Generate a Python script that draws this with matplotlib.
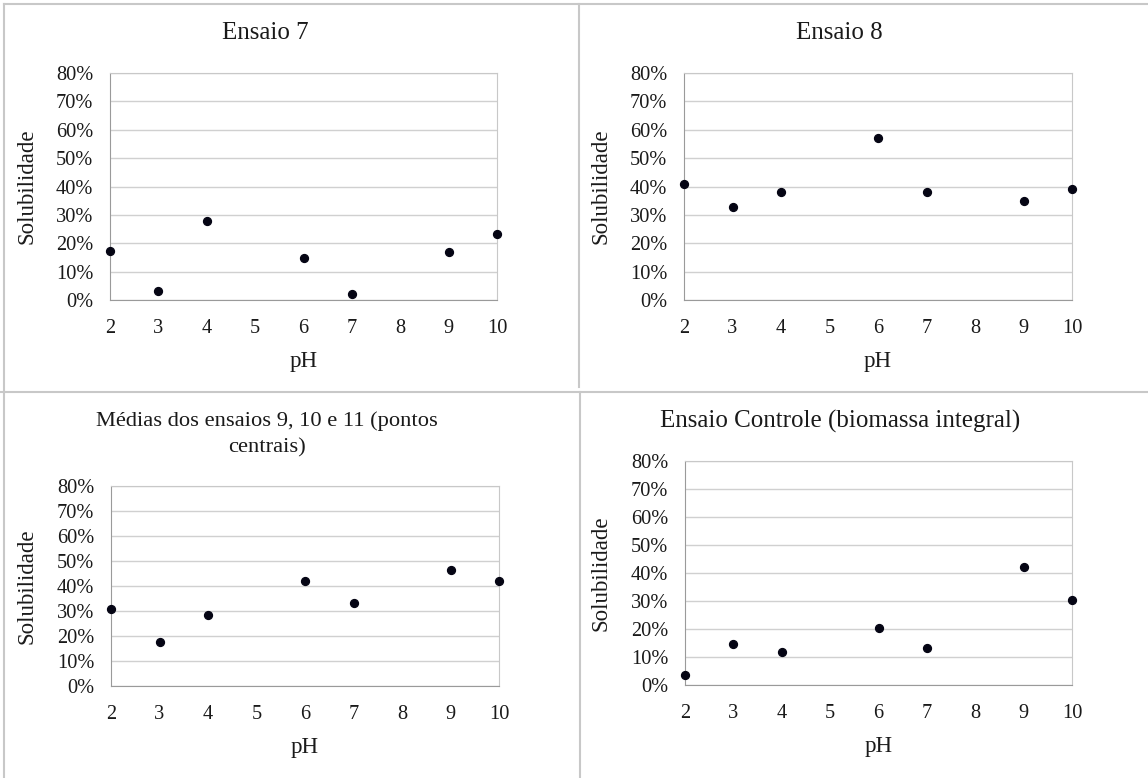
import matplotlib
matplotlib.use("Agg")
import matplotlib.pyplot as plt
from matplotlib.lines import Line2D
from matplotlib.ticker import FuncFormatter

plt.rcParams['font.family'] = ['Liberation Serif', 'DejaVu Serif']

# data
ph = [2, 3, 4, 6, 7, 9, 10]
ensaio7 = [0.173, 0.031, 0.280, 0.147, 0.022, 0.168, 0.232]
ensaio8 = [0.408, 0.327, 0.382, 0.572, 0.379, 0.348, 0.391]
medias = [0.309, 0.176, 0.283, 0.421, 0.331, 0.464, 0.421]
controle = [0.037, 0.146, 0.118, 0.204, 0.132, 0.423, 0.304]

titles = ["Ensaio 7", "Ensaio 8",
          "Médias dos ensaios 9, 10 e 11 (pontos\ncentrais)",
          "Ensaio Controle (biomassa integral)"]
series = [ensaio7, ensaio8, medias, controle]
xticks = [2, 3, 4, 5, 6, 7, 8, 9, 10]
yticks = [0, 0.1, 0.2, 0.3, 0.4, 0.5, 0.6, 0.7, 0.8]

W, H = 1148, 778
fig = plt.figure(figsize=(W / 100, H / 100), dpi=100)

# plot boxes in pixels: left, top, right, bottom
boxes = [(110, 73, 497, 300), (684, 73, 1072, 300),
         (111, 486, 499, 686), (685, 461, 1072, 685)]
title_pos = [(265, 33), (839, 33), (267, 434), (840, 421)]
title_size = [18, 18, 16.2, 18]
ylab_x = [37, 611, 37, 611]

def fx(x):
    return x / W

def fy(y):
    return 1 - y / H

# panel borders
col = "#c8c8c8"
for (x0, y0, x1, y1) in [(4, 4, W, 4), (4, 4, 4, H), (579, 4, 579, 387),
                         (580, 392, 580, H), (0, 392, W, 392)]:
    fig.add_artist(Line2D([fx(x0), fx(x1)], [fy(y0), fy(y1)],
                          color=col, lw=1.5, transform=fig.transFigure))

for i in range(4):
    l, t, r, b = boxes[i]
    ax = fig.add_axes([fx(l), fy(b), fx(r - l), (b - t) / H])
    ax.scatter(ph, series[i], s=32, color="#050514", zorder=3, clip_on=False)
    ax.set_xlim(2, 10)
    ax.set_ylim(0, 0.8)
    ax.set_xticks(xticks)
    ax.set_yticks(yticks)
    ax.yaxis.set_major_formatter(FuncFormatter(lambda v, p: f"{v*100:.0f}%"))
    ax.tick_params(length=0, labelsize=14.7, colors="#1a1a1a")
    ax.tick_params(axis='x', pad=14)
    ax.tick_params(axis='y', pad=12)
    ax.grid(axis='y', color="#d0d0d0", lw=1)
    ax.set_axisbelow(True)
    for s in ['left', 'bottom']:
        ax.spines[s].set_color("#9a9a9a")
    for s in ['top', 'right']:
        ax.spines[s].set_color("#c8c8c8")
    ax.set_xlabel("pH", fontsize=16.5, color="#1a1a1a", labelpad=9)
    ax.set_ylabel("Solubilidade", fontsize=16.5, color="#1a1a1a")
    ax.yaxis.set_label_coords((ylab_x[i] - l) / (r - l), 0.5)
    tx, ty = title_pos[i]
    fig.text(fx(tx), fy(ty), titles[i], ha='center', va='center',
             fontsize=title_size[i], color="#1a1a1a", linespacing=1.5)

fig.savefig("out.png", dpi=100)
